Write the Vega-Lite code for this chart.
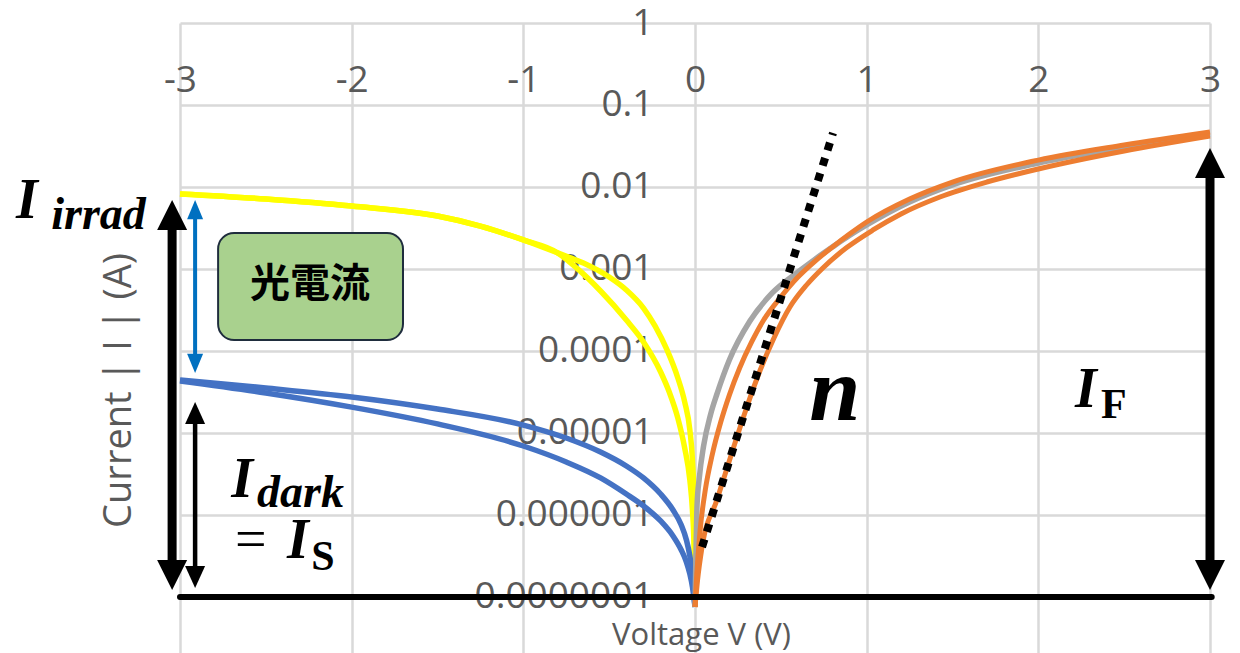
{
  "$schema": "https://vega.github.io/schema/vega-lite/v6.json",
  "width": 1030,
  "height": 630,
  "autosize": {"type": "none"},
  "padding": {"left": 180, "top": 23, "right": 30, "bottom": 0},
  "background": "white",
  "config": {"view": {"stroke": null}},
  "datasets": {
    "curves": [
      {"g": "yellow", "s": "Y1", "V": -3, "I": 0.00822},
      {"g": "yellow", "s": "Y1", "V": -2.5, "I": 0.00714},
      {"g": "yellow", "s": "Y1", "V": -2, "I": 0.00586},
      {"g": "yellow", "s": "Y1", "V": -1.5, "I": 0.00443},
      {"g": "yellow", "s": "Y1", "V": -1.25, "I": 0.00334},
      {"g": "yellow", "s": "Y1", "V": -1, "I": 0.00226},
      {"g": "yellow", "s": "Y1", "V": -0.8, "I": 0.00157},
      {"g": "yellow", "s": "Y1", "V": -0.65, "I": 0.00118},
      {"g": "yellow", "s": "Y1", "V": -0.5, "I": 0.000798},
      {"g": "yellow", "s": "Y1", "V": -0.4, "I": 0.000555},
      {"g": "yellow", "s": "Y1", "V": -0.3, "I": 0.000334},
      {"g": "yellow", "s": "Y1", "V": -0.233, "I": 0.000202},
      {"g": "yellow", "s": "Y1", "V": -0.163, "I": 0.000103},
      {"g": "yellow", "s": "Y1", "V": -0.1, "I": 0.0000469},
      {"g": "yellow", "s": "Y1", "V": -0.06, "I": 0.0000239},
      {"g": "yellow", "s": "Y1", "V": -0.03, "I": 0.0000109},
      {"g": "yellow", "s": "Y1", "V": -0.015, "I": 0.00000469},
      {"g": "yellow", "s": "Y1", "V": -0.006, "I": 0.00000152},
      {"g": "yellow", "s": "Y1", "V": -0.002, "I": 0.000000431},
      {"g": "yellow", "s": "Y1", "V": 0, "I": 0.0000000755},
      {"g": "yellow", "s": "Y2", "V": -3, "I": 0.00822},
      {"g": "yellow", "s": "Y2", "V": -2.5, "I": 0.00714},
      {"g": "yellow", "s": "Y2", "V": -2, "I": 0.00586},
      {"g": "yellow", "s": "Y2", "V": -1.5, "I": 0.00443},
      {"g": "yellow", "s": "Y2", "V": -1.25, "I": 0.00334},
      {"g": "yellow", "s": "Y2", "V": -1, "I": 0.00226},
      {"g": "yellow", "s": "Y2", "V": -0.8, "I": 0.00157},
      {"g": "yellow", "s": "Y2", "V": -0.69, "I": 0.00103},
      {"g": "yellow", "s": "Y2", "V": -0.55, "I": 0.000539},
      {"g": "yellow", "s": "Y2", "V": -0.4, "I": 0.000239},
      {"g": "yellow", "s": "Y2", "V": -0.3, "I": 0.000129},
      {"g": "yellow", "s": "Y2", "V": -0.2, "I": 0.0000555},
      {"g": "yellow", "s": "Y2", "V": -0.15, "I": 0.0000316},
      {"g": "yellow", "s": "Y2", "V": -0.1, "I": 0.0000152},
      {"g": "yellow", "s": "Y2", "V": -0.06, "I": 0.00000656},
      {"g": "yellow", "s": "Y2", "V": -0.03, "I": 0.00000267},
      {"g": "yellow", "s": "Y2", "V": -0.015, "I": 0.00000115},
      {"g": "yellow", "s": "Y2", "V": -0.006, "I": 0.000000431},
      {"g": "yellow", "s": "Y2", "V": 0, "I": 0.0000000755},
      {"g": "blue", "s": "B1", "V": -3, "I": 0.0000443},
      {"g": "blue", "s": "B1", "V": -2.5, "I": 0.0000354},
      {"g": "blue", "s": "B1", "V": -2, "I": 0.0000275},
      {"g": "blue", "s": "B1", "V": -1.5, "I": 0.0000196},
      {"g": "blue", "s": "B1", "V": -1, "I": 0.0000125},
      {"g": "blue", "s": "B1", "V": -0.75, "I": 0.00000869},
      {"g": "blue", "s": "B1", "V": -0.55, "I": 0.00000586},
      {"g": "blue", "s": "B1", "V": -0.4, "I": 0.00000396},
      {"g": "blue", "s": "B1", "V": -0.3, "I": 0.00000283},
      {"g": "blue", "s": "B1", "V": -0.2, "I": 0.0000018},
      {"g": "blue", "s": "B1", "V": -0.128, "I": 0.00000115},
      {"g": "blue", "s": "B1", "V": -0.08, "I": 0.000000755},
      {"g": "blue", "s": "B1", "V": -0.05, "I": 0.000000496},
      {"g": "blue", "s": "B1", "V": -0.03, "I": 0.000000316},
      {"g": "blue", "s": "B1", "V": -0.015, "I": 0.000000185},
      {"g": "blue", "s": "B1", "V": 0, "I": 0.0000000755},
      {"g": "blue", "s": "B2", "V": -3, "I": 0.0000431},
      {"g": "blue", "s": "B2", "V": -2.5, "I": 0.0000308},
      {"g": "blue", "s": "B2", "V": -2, "I": 0.0000207},
      {"g": "blue", "s": "B2", "V": -1.5, "I": 0.0000129},
      {"g": "blue", "s": "B2", "V": -1, "I": 0.00000694},
      {"g": "blue", "s": "B2", "V": -0.75, "I": 0.00000443},
      {"g": "blue", "s": "B2", "V": -0.55, "I": 0.00000283},
      {"g": "blue", "s": "B2", "V": -0.4, "I": 0.0000018},
      {"g": "blue", "s": "B2", "V": -0.3, "I": 0.00000129},
      {"g": "blue", "s": "B2", "V": -0.2, "I": 0.000000845},
      {"g": "blue", "s": "B2", "V": -0.128, "I": 0.000000555},
      {"g": "blue", "s": "B2", "V": -0.08, "I": 0.000000374},
      {"g": "blue", "s": "B2", "V": -0.05, "I": 0.000000267},
      {"g": "blue", "s": "B2", "V": -0.03, "I": 0.000000191},
      {"g": "blue", "s": "B2", "V": -0.015, "I": 0.000000133},
      {"g": "blue", "s": "B2", "V": 0, "I": 0.0000000755},
      {"g": "grey", "s": "G", "V": 0, "I": 0.0000000755},
      {"g": "grey", "s": "G", "V": 0.005, "I": 0.000000283},
      {"g": "grey", "s": "G", "V": 0.012, "I": 0.00000132},
      {"g": "grey", "s": "G", "V": 0.025, "I": 0.00000283},
      {"g": "grey", "s": "G", "V": 0.05, "I": 0.00000694},
      {"g": "grey", "s": "G", "V": 0.09, "I": 0.0000166},
      {"g": "grey", "s": "G", "V": 0.13, "I": 0.0000308},
      {"g": "grey", "s": "G", "V": 0.2, "I": 0.0000776},
      {"g": "grey", "s": "G", "V": 0.32, "I": 0.000232},
      {"g": "grey", "s": "G", "V": 0.45, "I": 0.00051},
      {"g": "grey", "s": "G", "V": 0.6, "I": 0.000919},
      {"g": "grey", "s": "G", "V": 0.7, "I": 0.00132},
      {"g": "grey", "s": "G", "V": 0.8, "I": 0.00185},
      {"g": "grey", "s": "G", "V": 0.9, "I": 0.00256},
      {"g": "grey", "s": "G", "V": 1, "I": 0.00344},
      {"g": "grey", "s": "G", "V": 1.25, "I": 0.00656},
      {"g": "grey", "s": "G", "V": 1.5, "I": 0.0106},
      {"g": "grey", "s": "G", "V": 2, "I": 0.0196},
      {"g": "grey", "s": "G", "V": 2.5, "I": 0.0303},
      {"g": "grey", "s": "G", "V": 3, "I": 0.0443},
      {"g": "orange", "s": "O1", "V": 0, "I": 0.0000000755},
      {"g": "orange", "s": "O1", "V": 0.01, "I": 0.000000185},
      {"g": "orange", "s": "O1", "V": 0.03, "I": 0.000000656},
      {"g": "orange", "s": "O1", "V": 0.06, "I": 0.00000202},
      {"g": "orange", "s": "O1", "V": 0.1, "I": 0.00000539},
      {"g": "orange", "s": "O1", "V": 0.15, "I": 0.0000136},
      {"g": "orange", "s": "O1", "V": 0.2, "I": 0.000029},
      {"g": "orange", "s": "O1", "V": 0.26, "I": 0.0000621},
      {"g": "orange", "s": "O1", "V": 0.33, "I": 0.000129},
      {"g": "orange", "s": "O1", "V": 0.4, "I": 0.000239},
      {"g": "orange", "s": "O1", "V": 0.5, "I": 0.000456},
      {"g": "orange", "s": "O1", "V": 0.6, "I": 0.000798},
      {"g": "orange", "s": "O1", "V": 0.7, "I": 0.00125},
      {"g": "orange", "s": "O1", "V": 0.8, "I": 0.00185},
      {"g": "orange", "s": "O1", "V": 0.9, "I": 0.00267},
      {"g": "orange", "s": "O1", "V": 1, "I": 0.00374},
      {"g": "orange", "s": "O1", "V": 1.25, "I": 0.00714},
      {"g": "orange", "s": "O1", "V": 1.5, "I": 0.0115},
      {"g": "orange", "s": "O1", "V": 2, "I": 0.0213},
      {"g": "orange", "s": "O1", "V": 2.5, "I": 0.0325},
      {"g": "orange", "s": "O1", "V": 3, "I": 0.0469},
      {"g": "orange", "s": "O2", "V": 0, "I": 0.0000000755},
      {"g": "orange", "s": "O2", "V": 0.015, "I": 0.000000161},
      {"g": "orange", "s": "O2", "V": 0.041, "I": 0.000000407},
      {"g": "orange", "s": "O2", "V": 0.1275, "I": 0.00000152},
      {"g": "orange", "s": "O2", "V": 0.22, "I": 0.00000621},
      {"g": "orange", "s": "O2", "V": 0.3, "I": 0.0000202},
      {"g": "orange", "s": "O2", "V": 0.38, "I": 0.0000586},
      {"g": "orange", "s": "O2", "V": 0.46, "I": 0.000144},
      {"g": "orange", "s": "O2", "V": 0.553, "I": 0.000344},
      {"g": "orange", "s": "O2", "V": 0.65, "I": 0.000638},
      {"g": "orange", "s": "O2", "V": 0.745, "I": 0.00103},
      {"g": "orange", "s": "O2", "V": 0.88, "I": 0.0018},
      {"g": "orange", "s": "O2", "V": 1.037, "I": 0.00299},
      {"g": "orange", "s": "O2", "V": 1.2, "I": 0.00469},
      {"g": "orange", "s": "O2", "V": 1.427, "I": 0.00755},
      {"g": "orange", "s": "O2", "V": 1.7, "I": 0.0115},
      {"g": "orange", "s": "O2", "V": 2, "I": 0.0166},
      {"g": "orange", "s": "O2", "V": 2.5, "I": 0.0275},
      {"g": "orange", "s": "O2", "V": 3, "I": 0.0419}
    ],
    "tangent": [
      {"V": 0.041, "I": 0.000000407},
      {"V": 0.804, "I": 0.0456}
    ],
    "baseline": [{"V": -3, "V2": 3.01, "I": 0.0000001}],
    "shaftThick": [
      {"V": -3.046, "I": 0.00456, "I2": 0.000000185},
      {"V": 3, "I": 0.0185, "I2": 0.000000185}
    ],
    "shaftThin": [{"V": -2.912, "I": 0.0000166, "I2": 0.000000185}],
    "shaftBlue": [{"V": -2.912, "I": 0.00525, "I2": 0.0000714}],
    "headThick": [
      {"V": -3.046, "I": 0.00694, "dir": "up"},
      {"V": -3.046, "I": 0.000000122, "dir": "down"},
      {"V": 3, "I": 0.0299, "dir": "up"},
      {"V": 3, "I": 0.000000122, "dir": "down"}
    ],
    "headThin": [
      {"V": -2.912, "I": 0.0000239, "dir": "tu"},
      {"V": -2.912, "I": 0.000000129, "dir": "td"}
    ],
    "headBlue": [
      {"V": -2.912, "I": 0.00694, "dir": "bu"},
      {"V": -2.912, "I": 0.0000539, "dir": "bd"}
    ],
    "box": [{"V": -2.778, "V2": -1.701, "I": 0.00275, "I2": 0.000136}],
    "boxText": [{"V": -2.242, "I": 0.000638, "t": "光電流"}],
    "mathI": [
      {"V": -3.955, "I": 0.00419, "t": "I"},
      {"V": -2.702, "I": 0.00000166, "t": "I"},
      {"V": -2.376, "I": 0.000000299, "t": "I"},
      {"V": 2.213, "I": 0.0000207, "t": "I"}
    ],
    "mathSub": [
      {"V": -3.75, "I": 0.00308, "t": "irrad"},
      {"V": -2.551, "I": 0.00000125, "t": "dark"}
    ],
    "mathSubUp": [
      {"V": -2.236, "I": 0.000000213, "t": "S"},
      {"V": 2.365, "I": 0.0000152, "t": "F"}
    ],
    "mathEq": [{"V": -2.679, "I": 0.000000299, "t": "="}],
    "mathN": [{"V": 0.815, "I": 0.0000144, "t": "n"}]
  },
  "encoding": {
    "x": {
      "field": "V",
      "type": "quantitative",
      "scale": {"domain": [-3, 3], "nice": false, "zero": false},
      "axis": {
        "orient": "top",
        "values": [-3, -2, -1, 0, 1, 2, 3],
        "labelExpr": "datum.value < 0 ? '-' + abs(datum.value) : '' + datum.value",
        "domain": false,
        "ticks": false,
        "tickSize": 0,
        "labelPadding": -57,
        "labelBaseline": "middle",
        "labelAlign": "center",
        "labelFlush": false,
        "labelOverlap": false,
        "labelFont": "Open Sans",
        "labelFontSize": 37,
        "labelColor": "#595959",
        "grid": true,
        "gridColor": "#D9D9D9",
        "gridWidth": 2.5,
        "title": "Voltage V (V)",
        "titleX": 521,
        "titleY": 612,
        "titleAlign": "center",
        "titleBaseline": "middle",
        "titleAngle": 0,
        "titleFont": "Open Sans",
        "titleFontSize": 31,
        "titleFontWeight": "normal",
        "titleColor": "#595959",
        "zindex": 0
      }
    },
    "y": {
      "field": "I",
      "type": "quantitative",
      "scale": {"type": "log", "domain": [2.075e-8, 1], "nice": false},
      "axis": {
        "orient": "left",
        "values": [0.0000001, 0.000001, 0.00001, 0.0001, 0.001, 0.01, 0.1, 1],
        "format": ".7~f",
        "domain": false,
        "ticks": false,
        "tickSize": 0,
        "labelPadding": -473,
        "labelAlign": "right",
        "labelBaseline": "middle",
        "labelFlush": false,
        "labelOverlap": false,
        "labelFont": "Open Sans",
        "labelFontSize": 37,
        "labelColor": "#595959",
        "grid": true,
        "gridColor": "#D9D9D9",
        "gridWidth": 2.5,
        "title": "Current | I | (A)",
        "titleX": -61,
        "titleY": 367,
        "titleAngle": -90,
        "titleAlign": "center",
        "titleBaseline": "middle",
        "titleFont": "Open Sans",
        "titleFontSize": 38,
        "titleFontWeight": "normal",
        "titleColor": "#595959",
        "zindex": 0
      }
    }
  },
  "layer": [
    {
      "data": {"name": "curves"},
      "transform": [{"filter": "datum.g == 'yellow'"}],
      "mark": {"type": "line", "color": "#FFFF00", "strokeWidth": 5.5, "interpolate": "monotone"},
      "encoding": {"detail": {"field": "s"}}
    },
    {
      "data": {"name": "curves"},
      "transform": [{"filter": "datum.g == 'blue'"}],
      "mark": {"type": "line", "color": "#4472C4", "strokeWidth": 5.5, "interpolate": "monotone"},
      "encoding": {"detail": {"field": "s"}}
    },
    {
      "data": {"name": "curves"},
      "transform": [{"filter": "datum.g == 'grey'"}],
      "mark": {"type": "line", "color": "#A5A5A5", "strokeWidth": 5.5, "interpolate": "monotone"},
      "encoding": {"detail": {"field": "s"}}
    },
    {
      "data": {"name": "curves"},
      "transform": [{"filter": "datum.g == 'orange'"}],
      "mark": {"type": "line", "color": "#ED7D31", "strokeWidth": 5, "interpolate": "monotone"},
      "encoding": {"detail": {"field": "s"}}
    },
    {
      "data": {"name": "tangent"},
      "mark": {"type": "line", "color": "black", "strokeWidth": 8, "strokeDash": [8, 8], "strokeCap": "butt"},
      "encoding": {}
    },
    {
      "data": {"name": "baseline"},
      "mark": {"type": "rule", "color": "black", "strokeWidth": 6, "strokeCap": "round"},
      "encoding": {"x2": {"field": "V2"}}
    },
    {
      "data": {"name": "shaftThick"},
      "mark": {"type": "rule", "color": "black", "strokeWidth": 9},
      "encoding": {"y2": {"field": "I2"}}
    },
    {
      "data": {"name": "shaftThin"},
      "mark": {"type": "rule", "color": "black", "strokeWidth": 4.5},
      "encoding": {"y2": {"field": "I2"}}
    },
    {
      "data": {"name": "shaftBlue"},
      "mark": {"type": "rule", "color": "#0070C0", "strokeWidth": 4},
      "encoding": {"y2": {"field": "I2"}}
    },
    {
      "data": {"name": "headThick"},
      "mark": {"type": "point", "filled": true, "color": "black", "opacity": 1, "size": 900, "strokeWidth": 0},
      "encoding": {
        "shape": {
          "field": "dir", "type": "nominal", "legend": null,
          "scale": {
            "domain": ["up", "down", "tu", "td", "bu", "bd"],
            "range": ["M0,0L1,2L-1,2Z", "M0,0L1,-2L-1,-2Z", "M0,0L1,2.2L-1,2.2Z", "M0,0L1,-2.2L-1,-2.2Z", "M0,0L1,2.4L-1,2.4Z", "M0,0L1,-2.4L-1,-2.4Z"]
          }
        }
      }
    },
    {
      "data": {"name": "headThin"},
      "mark": {"type": "point", "filled": true, "color": "black", "opacity": 1, "size": 400, "strokeWidth": 0},
      "encoding": {
        "shape": {
          "field": "dir", "type": "nominal", "legend": null,
          "scale": {
            "domain": ["up", "down", "tu", "td", "bu", "bd"],
            "range": ["M0,0L1,2L-1,2Z", "M0,0L1,-2L-1,-2Z", "M0,0L1,2.2L-1,2.2Z", "M0,0L1,-2.2L-1,-2.2Z", "M0,0L1,2.4L-1,2.4Z", "M0,0L1,-2.4L-1,-2.4Z"]
          }
        }
      }
    },
    {
      "data": {"name": "headBlue"},
      "mark": {"type": "point", "filled": true, "color": "#0070C0", "opacity": 1, "size": 256, "strokeWidth": 0},
      "encoding": {
        "shape": {
          "field": "dir", "type": "nominal", "legend": null,
          "scale": {
            "domain": ["up", "down", "tu", "td", "bu", "bd"],
            "range": ["M0,0L1,2L-1,2Z", "M0,0L1,-2L-1,-2Z", "M0,0L1,2.2L-1,2.2Z", "M0,0L1,-2.2L-1,-2.2Z", "M0,0L1,2.4L-1,2.4Z", "M0,0L1,-2.4L-1,-2.4Z"]
          }
        }
      }
    },
    {
      "data": {"name": "box"},
      "mark": {"type": "rect", "fill": "#A9D18E", "stroke": "#1F2D3D", "strokeWidth": 2, "cornerRadius": 16},
      "encoding": {"x2": {"field": "V2"}, "y2": {"field": "I2"}}
    },
    {
      "data": {"name": "boxText"},
      "mark": {"type": "text", "font": "Noto Sans CJK JP", "fontSize": 40, "fontWeight": "bold", "align": "center", "baseline": "middle", "color": "black"},
      "encoding": {"text": {"field": "t"}}
    },
    {
      "data": {"name": "mathI"},
      "mark": {"type": "text", "font": "Liberation Serif", "fontSize": 56, "fontStyle": "italic", "fontWeight": "bold", "align": "left", "baseline": "alphabetic", "color": "black"},
      "encoding": {"text": {"field": "t"}}
    },
    {
      "data": {"name": "mathSub"},
      "mark": {"type": "text", "font": "Liberation Serif", "fontSize": 46, "fontStyle": "italic", "fontWeight": "bold", "align": "left", "baseline": "alphabetic", "color": "black"},
      "encoding": {"text": {"field": "t"}}
    },
    {
      "data": {"name": "mathSubUp"},
      "mark": {"type": "text", "font": "Liberation Serif", "fontSize": 42, "fontWeight": "bold", "align": "left", "baseline": "alphabetic", "color": "black"},
      "encoding": {"text": {"field": "t"}}
    },
    {
      "data": {"name": "mathEq"},
      "mark": {"type": "text", "font": "Liberation Serif", "fontSize": 56, "align": "left", "baseline": "alphabetic", "color": "black"},
      "encoding": {"text": {"field": "t"}}
    },
    {
      "data": {"name": "mathN"},
      "mark": {"type": "text", "font": "Liberation Serif", "fontSize": 92, "fontStyle": "italic", "fontWeight": "bold", "align": "center", "baseline": "alphabetic", "color": "black"},
      "encoding": {"text": {"field": "t"}}
    }
  ]
}
